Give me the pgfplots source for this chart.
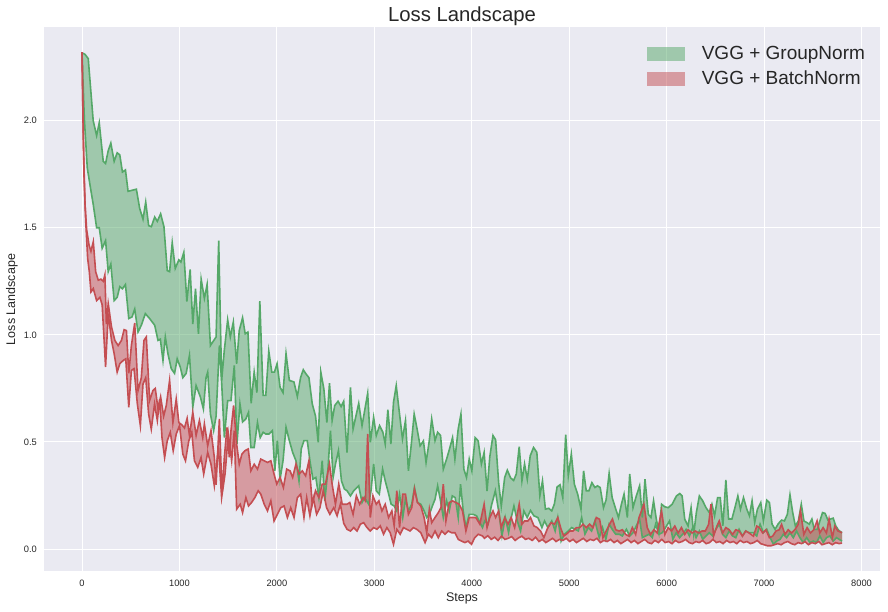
\documentclass[border=0pt]{standalone}
\usepackage{fontspec}
\setmainfont{Liberation Sans}
\usepackage{pgfplots}
\usepackage{pgfplotstable}
\pgfplotsset{compat=1.18}
\usepgfplotslibrary{fillbetween}

\definecolor{bg}{HTML}{EAEAF2}
\definecolor{sgreen}{HTML}{55A868}
\definecolor{sred}{HTML}{C44E52}
\definecolor{txt}{HTML}{262626}

% GroupNorm, upper edge
\pgfplotstableread{
x y
0 2.317
30 2.31
64 2.29
115 2.00
150 1.93
177 1.99
218 1.81
242 1.80
269 1.86
296 1.895
330 1.81
361 1.85
388 1.84
415 1.76
446 1.77
473 1.67
558 1.68
592 1.59
626 1.54
654 1.62
684 1.51
712 1.505
746 1.55
773 1.53
807 1.565
841 1.505
875 1.30
899 1.295
926 1.43
957 1.31
994 1.35
1015 1.34
1045 1.385
1076 1.155
1110 1.305
1137 1.05
1165 1.215
1195 1.005
1223 1.26
1256 1.17
1284 1.235
1318 0.95
1376 0.99
1403 1.44
1433 0.787
1461 0.93
1495 1.07
1522 0.99
1553 1.06
1587 0.865
1614 1.02
1648 1.08
1675 1.005
1703 1.013
1736 0.68
1767 0.826
1795 0.73
1825 1.157
1859 0.717
1886 0.717
1917 0.924
1948 0.826
1975 0.826
2002 0.865
2033 0.755
2063 0.73
2094 0.912
2128 0.787
2175 0.78
2210 0.712
2243 0.80
2271 0.837
2295 0.82
2329 0.80
2363 0.678
2397 0.62
2424 0.498
2451 0.826
2482 0.748
2513 0.59
2540 0.774
2567 0.60
2594 0.67
2628 0.69
2659 0.665
2686 0.69
2720 0.45
2755 0.755
2782 0.56
2840 0.68
2874 0.576
2932 0.727
2959 0.498
2993 0.615
3020 0.53
3054 0.576
3088 0.545
3112 0.49
3139 0.65
3170 0.49
3197 0.685
3225 0.763
3259 0.63
3289 0.514
3320 0.60
3350 0.365
3378 0.482
3409 0.63
3436 0.568
3470 0.482
3504 0.505
3531 0.404
3562 0.498
3589 0.607
3623 0.506
3650 0.545
3680 0.53
3708 0.373
3742 0.42
3776 0.474
3803 0.52
3827 0.42
3861 0.56
3889 0.63
3919 0.373
3946 0.334
3974 0.42
4001 0.365
4035 0.52
4066 0.505
4099 0.397
4127 0.451
4157 0.27
4185 0.43
4218 0.53
4245 0.51
4276 0.31
4303 0.20
4338 0.334
4365 0.368
4399 0.332
4430 0.32
4457 0.35
4487 0.478
4515 0.318
4542 0.397
4570 0.325
4600 0.435
4634 0.474
4668 0.451
4699 0.248
4726 0.318
4756 0.186
4790 0.19
4821 0.178
4848 0.21
4876 0.29
4906 0.30
4934 0.24
4964 0.534
4991 0.342
5022 0.443
5053 0.303
5087 0.256
5121 0.186
5148 0.365
5175 0.272
5203 0.272
5233 0.31
5264 0.287
5290 0.295
5318 0.287
5352 0.193
5379 0.23
5410 0.353
5441 0.24
5478 0.186
5506 0.147
5536 0.209
5563 0.256
5597 0.147
5621 0.35
5655 0.193
5689 0.248
5723 0.295
5751 0.147
5778 0.326
5812 0.162
5839 0.147
5866 0.225
5894 0.14
5921 0.076
5948 0.209
5982 0.197
6016 0.193
6057 0.209
6101 0.248
6135 0.259
6159 0.248
6186 0.139
6220 0.108
6251 0.193
6278 0.069
6305 0.17
6336 0.248
6370 0.225
6404 0.193
6438 0.17
6465 0.209
6492 0.155
6523 0.24
6550 0.24
6577 0.108
6608 0.322
6636 0.14
6670 0.14
6697 0.186
6731 0.248
6758 0.186
6789 0.24
6823 0.186
6850 0.155
6877 0.225
6904 0.124
6932 0.186
6966 0.217
6993 0.131
7028 0.228
7055 0.217
7082 0.116
7113 0.092
7147 0.119
7181 0.135
7209 0.131
7239 0.162
7266 0.253
7294 0.17
7321 0.108
7352 0.131
7382 0.209
7409 0.131
7437 0.124
7464 0.116
7491 0.14
7515 0.092
7546 0.092
7573 0.131
7600 0.17
7627 0.166
7655 0.135
7682 0.14
7709 0.144
7736 0.108
7764 0.088
7800 0.076
}\gnup

% GroupNorm, lower edge
\pgfplotstableread{
x y
0 2.317
24 2.01
54 1.78
82 1.70
115 1.61
150 1.50
177 1.50
207 1.404
242 1.44
269 1.295
296 1.33
330 1.16
361 1.175
388 1.225
415 1.215
446 1.235
480 1.076
514 1.084
541 1.12
575 1.013
609 1.045
650 1.099
694 1.076
746 1.045
780 0.974
804 0.98
831 0.88
855 0.99
882 0.912
916 0.842
950 0.82
977 0.888
1008 0.85
1035 0.80
1069 0.82
1103 0.904
1137 0.662
1171 0.763
1215 0.71
1246 0.654
1273 0.80
1290 0.826
1318 0.63
1351 0.553
1376 0.62
1410 0.95
1433 0.78
1461 0.52
1495 0.693
1529 0.693
1563 0.857
1590 0.49
1621 0.678
1648 0.593
1682 0.608
1709 0.638
1733 0.474
1767 0.474
1801 0.59
1829 0.52
1859 0.545
1886 0.537
1920 0.537
1954 0.553
1979 0.365
2005 0.506
2033 0.326
2063 0.412
2094 0.568
2128 0.506
2162 0.451
2196 0.412
2227 0.318
2250 0.467
2278 0.506
2312 0.506
2339 0.412
2370 0.326
2400 0.334
2431 0.24
2465 0.412
2492 0.225
2523 0.365
2550 0.553
2577 0.334
2601 0.396
2632 0.459
2663 0.318
2693 0.28
2720 0.272
2755 0.248
2789 0.272
2840 0.295
2874 0.217
2901 0.24
2942 0.209
2966 0.272
2993 0.397
3020 0.272
3051 0.256
3085 0.373
3112 0.318
3139 0.272
3173 0.209
3204 0.201
3231 0.178
3259 0.256
3292 0.147
3320 0.232
3350 0.178
3384 0.209
3412 0.287
3443 0.217
3477 0.209
3511 0.178
3538 0.147
3565 0.162
3596 0.201
3623 0.232
3650 0.295
3680 0.225
3708 0.147
3742 0.225
3769 0.178
3800 0.248
3830 0.24
3861 0.147
3885 0.303
3912 0.178
3940 0.10
3974 0.162
4015 0.162
4049 0.155
4083 0.124
4110 0.10
4133 0.131
4167 0.116
4201 0.201
4242 0.272
4276 0.178
4310 0.061
4344 0.147
4378 0.077
4405 0.147
4433 0.201
4467 0.131
4501 0.084
4535 0.178
4569 0.147
4603 0.18
4638 0.155
4679 0.147
4720 0.10
4747 0.131
4781 0.10
4821 0.131
4856 0.084
4883 0.147
4917 0.037
4951 0.069
4991 0.084
5026 0.10
5060 0.092
5094 0.084
5128 0.147
5162 0.069
5196 0.10
5230 0.084
5264 0.131
5308 0.053
5342 0.10
5376 0.045
5410 0.116
5444 0.09
5478 0.069
5512 0.069
5546 0.061
5587 0.092
5621 0.061
5655 0.076
5689 0.108
5723 0.139
5751 0.053
5785 0.061
5819 0.069
5853 0.053
5887 0.116
5921 0.069
5955 0.076
5989 0.10
6030 0.131
6064 0.045
6098 0.076
6132 0.053
6166 0.069
6200 0.092
6234 0.061
6268 0.10
6302 0.053
6336 0.084
6370 0.045
6404 0.061
6438 0.076
6472 0.061
6506 0.092
6540 0.116
6574 0.069
6608 0.053
6642 0.084
6676 0.061
6710 0.053
6744 0.092
6778 0.061
6812 0.084
6846 0.076
6891 0.076
6925 0.061
6959 0.116
6993 0.076
7028 0.092
7062 0.053
7096 0.022
7130 0.037
7164 0.045
7198 0.069
7232 0.053
7266 0.076
7300 0.053
7334 0.084
7368 0.053
7402 0.03
7437 0.053
7471 0.03
7505 0.037
7539 0.03
7573 0.061
7607 0.03
7641 0.053
7675 0.061
7709 0.037
7743 0.053
7800 0.037
}\gnlo

% BatchNorm, upper edge
\pgfplotstableread{
x y
0 2.32
14 1.89
31 1.61
48 1.49
72 1.42
92 1.39
116 1.435
140 1.295
167 1.255
194 1.26
218 1.25
235 1.28
250 1.05
269 1.146
303 1.037
337 0.974
371 0.95
405 0.974
432 1.024
456 1.02
480 0.82
507 0.95
541 1.055
575 0.74
609 0.80
636 0.974
660 0.99
694 0.693
728 0.74
752 0.75
780 0.654
807 0.71
838 0.62
865 0.67
899 0.787
933 0.59
967 0.70
994 0.59
1025 0.58
1052 0.565
1079 0.61
1103 0.53
1137 0.638
1171 0.53
1205 0.60
1239 0.52
1256 0.584
1290 0.482
1324 0.553
1358 0.428
1376 0.30
1410 0.607
1437 0.26
1461 0.428
1488 0.568
1512 0.428
1529 0.553
1556 0.67
1587 0.49
1614 0.396
1641 0.443
1672 0.459
1706 0.467
1733 0.365
1767 0.396
1801 0.373
1835 0.42
1870 0.412
1904 0.404
1938 0.412
1971 0.35
1999 0.303
2033 0.334
2067 0.287
2101 0.373
2135 0.365
2162 0.334
2196 0.397
2227 0.35
2261 0.365
2295 0.342
2329 0.412
2363 0.209
2397 0.272
2431 0.24
2465 0.303
2499 0.303
2540 0.397
2567 0.303
2601 0.209
2635 0.303
2670 0.209
2720 0.209
2748 0.217
2782 0.162
2816 0.248
2850 0.209
2884 0.24
2908 0.225
2932 0.537
2959 0.147
2986 0.248
3020 0.209
3047 0.225
3078 0.178
3112 0.209
3146 0.147
3180 0.178
3204 0.108
3231 0.272
3259 0.10
3292 0.256
3320 0.256
3350 0.162
3384 0.193
3412 0.28
3443 0.217
3477 0.201
3511 0.147
3538 0.076
3565 0.186
3589 0.123
3623 0.147
3657 0.17
3684 0.193
3708 0.303
3735 0.131
3769 0.217
3803 0.225
3837 0.217
3871 0.209
3905 0.178
3940 0.084
3974 0.147
4008 0.147
4042 0.147
4083 0.116
4127 0.209
4157 0.10
4185 0.147
4218 0.178
4245 0.147
4276 0.178
4303 0.10
4338 0.147
4372 0.116
4405 0.147
4440 0.10
4487 0.209
4515 0.116
4542 0.131
4576 0.131
4603 0.147
4638 0.108
4672 0.10
4706 0.084
4740 0.053
4781 0.10
4815 0.123
4849 0.116
4883 0.147
4917 0.092
4945 0.061
4971 0.069
5006 0.084
5040 0.084
5074 0.10
5108 0.10
5142 0.116
5176 0.10
5210 0.116
5244 0.10
5278 0.147
5312 0.139
5346 0.053
5380 0.084
5414 0.116
5444 0.14
5478 0.09
5512 0.084
5546 0.09
5580 0.068
5614 0.06
5648 0.10
5682 0.068
5716 0.146
5767 0.209
5801 0.10
5835 0.068
5869 0.09
5903 0.075
5948 0.178
5982 0.068
6016 0.10
6050 0.084
6084 0.107
6118 0.075
6152 0.10
6186 0.068
6220 0.09
6261 0.075
6295 0.084
6329 0.075
6363 0.084
6397 0.084
6431 0.115
6455 0.209
6482 0.06
6516 0.107
6540 0.131
6574 0.075
6608 0.10
6642 0.09
6676 0.068
6710 0.09
6744 0.084
6778 0.06
6812 0.084
6846 0.075
6891 0.06
6925 0.107
6952 0.10
6986 0.075
7020 0.09
7054 0.053
7088 0.06
7122 0.084
7156 0.09
7180 0.115
7214 0.068
7248 0.09
7282 0.075
7316 0.09
7350 0.115
7374 0.178
7408 0.068
7442 0.10
7476 0.075
7510 0.09
7544 0.131
7572 0.075
7606 0.10
7640 0.075
7667 0.14
7701 0.053
7725 0.107
7759 0.084
7800 0.076
}\bnup

% BatchNorm, lower edge
\pgfplotstableread{
x y
0 2.32
10 2.04
20 1.75
37 1.54
58 1.357
75 1.295
92 1.20
116 1.216
150 1.16
184 1.175
207 1.14
242 0.85
269 1.10
303 0.974
330 0.912
361 0.826
388 0.865
422 0.88
449 0.888
480 0.662
507 0.834
534 0.842
568 0.678
599 0.576
626 0.77
654 0.80
684 0.63
711 0.56
745 0.678
773 0.60
797 0.70
821 0.52
848 0.427
875 0.505
906 0.545
936 0.459
967 0.537
1001 0.576
1035 0.443
1062 0.412
1096 0.505
1127 0.545
1154 0.412
1188 0.381
1222 0.427
1249 0.35
1290 0.451
1324 0.396
1358 0.295
1400 0.474
1433 0.24
1468 0.35
1502 0.537
1536 0.412
1563 0.553
1587 0.186
1624 0.209
1648 0.17
1682 0.24
1709 0.201
1740 0.217
1774 0.24
1808 0.272
1835 0.256
1870 0.209
1904 0.178
1938 0.225
1971 0.131
2005 0.162
2040 0.193
2074 0.201
2108 0.147
2142 0.193
2176 0.147
2210 0.24
2244 0.256
2278 0.147
2306 0.24
2339 0.155
2373 0.24
2408 0.162
2442 0.193
2476 0.272
2510 0.193
2544 0.162
2584 0.193
2618 0.155
2652 0.209
2686 0.12
2720 0.092
2755 0.084
2789 0.10
2823 0.084
2857 0.116
2891 0.123
2925 0.10
2959 0.084
2993 0.10
3027 0.092
3061 0.108
3095 0.069
3129 0.10
3163 0.076
3197 0.022
3231 0.092
3265 0.069
3299 0.10
3333 0.092
3367 0.084
3401 0.10
3436 0.092
3477 0.076
3521 0.03
3555 0.069
3589 0.053
3623 0.084
3657 0.053
3691 0.084
3725 0.069
3759 0.084
3793 0.076
3827 0.076
3861 0.045
3895 0.037
3929 0.03
3963 0.037
3997 0.022
4031 0.053
4066 0.069
4110 0.061
4130 0.05
4165 0.062
4200 0.045
4235 0.055
4270 0.04
4305 0.06
4340 0.045
4375 0.05
4410 0.058
4445 0.04
4480 0.052
4515 0.06
4550 0.045
4585 0.05
4620 0.04
4655 0.055
4690 0.035
4725 0.045
4760 0.03
4795 0.04
4830 0.05
4865 0.035
4900 0.045
4935 0.04
4970 0.05
5005 0.035
5040 0.045
5075 0.03
5110 0.04
5145 0.05
5180 0.035
5215 0.045
5250 0.04
5285 0.05
5320 0.03
5355 0.04
5390 0.035
5425 0.045
5460 0.03
5495 0.04
5530 0.025
5565 0.035
5600 0.045
5635 0.03
5670 0.04
5705 0.025
5740 0.035
5775 0.045
5810 0.03
5845 0.025
5880 0.04
5915 0.03
5950 0.045
5985 0.03
6020 0.035
6055 0.025
6090 0.04
6125 0.03
6160 0.035
6195 0.045
6230 0.03
6265 0.025
6300 0.035
6335 0.03
6370 0.04
6405 0.025
6440 0.03
6475 0.045
6510 0.03
6545 0.035
6580 0.025
6615 0.04
6650 0.03
6685 0.035
6720 0.025
6755 0.04
6790 0.03
6825 0.035
6860 0.025
6895 0.03
6930 0.04
6965 0.025
7000 0.02
7035 0.015
7070 0.015
7105 0.02
7140 0.025
7175 0.02
7210 0.03
7245 0.035
7280 0.025
7315 0.02
7350 0.03
7385 0.025
7420 0.035
7455 0.02
7490 0.03
7525 0.025
7560 0.035
7595 0.02
7630 0.025
7665 0.03
7700 0.02
7735 0.03
7770 0.025
7800 0.028
}\bnlo

\begin{document}
\begin{tikzpicture}
\begin{axis}[
    set layers,
    scale only axis,
    width=836pt,
    height=544pt,
    xmin=-390, xmax=8190,
    ymin=-0.105, ymax=2.435,
    axis background/.style={fill=bg},
    axis line style={draw=none},
    major tick length=0pt,
    grid=major,
    grid style={white, line width=1pt},
    xtick={0,1000,2000,3000,4000,5000,6000,7000,8000},
    ytick={0,0.5,1.0,1.5,2.0},
    scaled x ticks=false,
    /pgf/number format/assume math mode=true,
    /pgf/number format/1000 sep={},
    yticklabel={\pgfmathprintnumber[fixed,fixed zerofill,precision=1]{\tick}},
    tick label style={font=\fontsize{9.3}{11}\selectfont, text=txt},
    xticklabel style={anchor=center, inner sep=0pt, yshift=-11.5pt},
    yticklabel style={anchor=east, inner sep=0pt, xshift=-7pt},
    title={Loss Landscape},
    title style={font=\fontsize{20.3}{24}\selectfont, text=txt, inner sep=0pt, at={(axis description cs:0.5,1.0101)}, anchor=center},
    xlabel={Steps},
    ylabel={Loss Landscape},
    xlabel style={font=\fontsize{12.5}{15}\selectfont, text=txt, inner sep=0pt, at={(axis description cs:0.5,-0.0487)}, anchor=center},
    ylabel style={font=\fontsize{12.5}{15}\selectfont, text=txt, inner sep=0pt, at={(axis description cs:-0.0383,0.5)}, anchor=center},
    legend style={draw=none, fill=none, at={(axis description cs:0.9846,0.9696)}, anchor=north east,
        font=\fontsize{19}{22}\selectfont, text=txt, row sep=6pt, inner sep=0pt},
    legend cell align=left,
    legend image code/.code={\fill[#1] (0pt,-7pt) rectangle (38pt,7pt); \path (53pt,0pt);},
]
\addplot[sgreen, line width=1.6pt, name path=gu, forget plot] table {\gnup};
\addplot[sgreen, line width=1.6pt, name path=gl, forget plot] table {\gnlo};
\addplot[sgreen, fill opacity=0.5, draw=none, forget plot] fill between[of=gu and gl];

\addplot[sred, line width=1.6pt, name path=bu, forget plot] table {\bnup};
\addplot[sred, line width=1.6pt, name path=bl, forget plot] table {\bnlo};
\addplot[sred, fill opacity=0.5, draw=none, forget plot] fill between[of=bu and bl];

\addlegendimage{fill=sgreen, fill opacity=0.5, draw=none}
\addlegendentry{VGG + GroupNorm}
\addlegendimage{fill=sred, fill opacity=0.5, draw=none}
\addlegendentry{VGG + BatchNorm}
\end{axis}
\path (-44pt,-40.5pt) rectangle (844pt,571.5pt);
\end{tikzpicture}
\end{document}
